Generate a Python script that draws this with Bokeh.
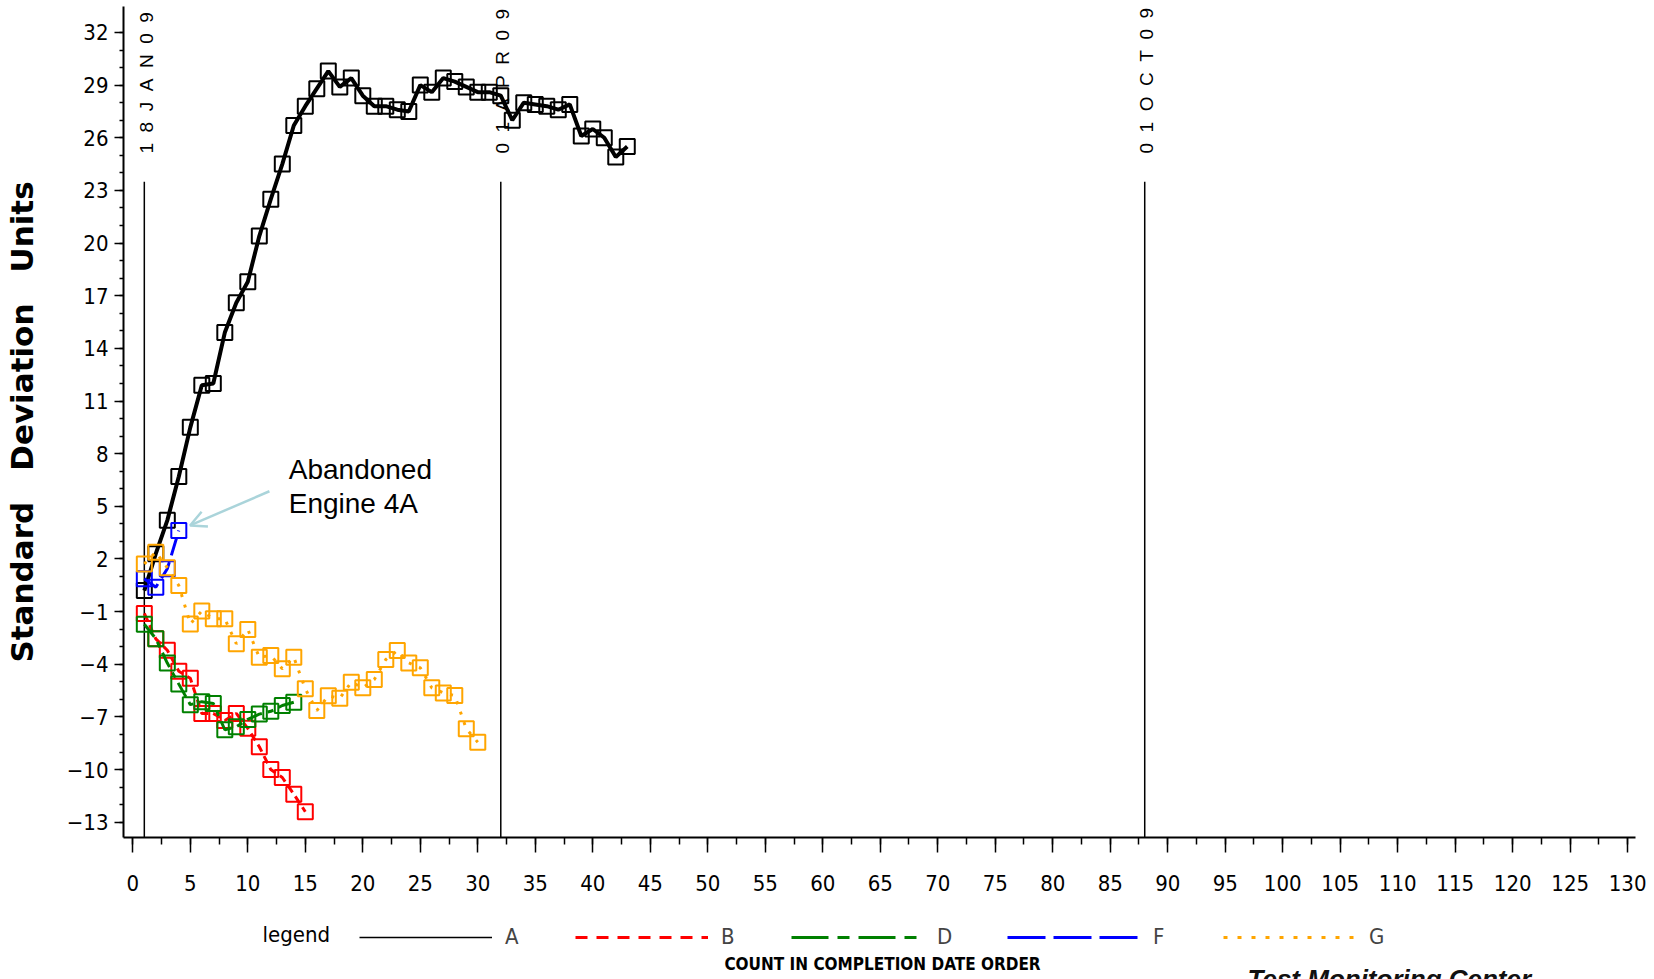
import math
from bokeh.plotting import figure
from bokeh.layouts import column
from bokeh.models import (Range1d, FixedTicker, Legend, LegendItem, Label,
                          Arrow, OpenHead)
from bokeh.core.properties import value
from bokeh.embed import file_html
from bokeh.resources import INLINE

NARROW = "Liberation Sans Narrow, DejaVu Sans Condensed, Liberation Sans"

# ---- data ----
x_a = list(range(1, 44))
y_a = [0.2, 2.3, 4.2, 6.7, 9.5, 11.9, 12.0, 14.9, 16.6, 17.8,
       20.4, 22.5, 24.5, 26.7, 27.8, 28.8, 29.8, 28.9, 29.4, 28.4,
       27.8, 27.8, 27.6, 27.5, 29.0, 28.6, 29.4, 29.2, 28.9, 28.6,
       28.6, 28.4, 27.0, 28.0, 27.9, 27.8, 27.6, 27.9, 26.1, 26.5,
       26.0, 24.9, 25.5]

x_b = list(range(1, 16))
y_b = [-1.1, -2.55, -3.2, -4.4, -4.8, -6.8, -6.8, -7.2, -6.8, -7.65,
       -8.7, -10.0, -10.45, -11.4, -12.4]

x_d = list(range(1, 15))
y_d = [-1.72, -2.54, -3.93, -5.13, -6.3, -6.13, -6.23, -7.73, -7.56, -7.14,
       -6.84, -6.68, -6.35, -6.16]

x_f = [1, 2, 3, 4]
y_f = [0.87, 0.39, 1.44, 3.62]

x_g = list(range(1, 31))
y_g = [1.72, 2.39, 1.5, 0.49, -1.7, -0.97, -1.41, -1.41, -2.83, -2.02,
       -3.6, -3.5, -4.26, -3.6, -5.4, -6.64, -5.8, -5.94, -5.02, -5.34,
       -4.87, -3.73, -3.22, -3.92, -4.2, -5.34, -5.63, -5.78, -7.68, -8.44]

series_names = ["A", "B", "D", "F", "G"]

ref_x = [1, 32, 88]
ref_text = ["18JAN09", "01APR09", "01OCT09"]
ref_line_top = 23.5
ref_label_base = 25.1

y_ticks = list(range(-13, 33, 3))
y_minor = list(range(-13, 33))
x_ticks = list(range(0, 131, 5))
x_minor = [i * 2.5 for i in range(0, 53)]

X_LO, X_HI = -0.81, 130.68
Y_LO, Y_HI = -13.87, 33.48

p = figure(width=1654, height=905, output_backend="svg", toolbar_location=None,
           x_range=Range1d(X_LO, X_HI), y_range=Range1d(Y_LO, Y_HI),
           min_border_left=119, min_border_right=19, min_border_top=6,
           min_border_bottom=68)
p.outline_line_color = None
p.xgrid.visible = False
p.ygrid.visible = False
p.background_fill_color = "white"
p.border_fill_color = "white"

p.xaxis.ticker = FixedTicker(ticks=x_ticks, minor_ticks=x_minor)
p.yaxis.ticker = FixedTicker(ticks=y_ticks, minor_ticks=y_minor)
for ax in (p.xaxis[0], p.yaxis[0]):
    ax.axis_line_color = "black"
    ax.axis_line_width = 2
    ax.major_tick_line_color = "black"
    ax.major_tick_line_width = 1.5
    ax.minor_tick_line_color = "black"
    ax.minor_tick_line_width = 1.5
    ax.major_tick_in = 0
    ax.minor_tick_in = 0
    ax.major_label_text_font = NARROW
    ax.major_label_text_font_size = "22px"
    ax.major_label_text_color = "black"
p.xaxis.major_tick_out = 15
p.xaxis.minor_tick_out = 7
p.xaxis.major_label_standoff = 22
p.yaxis.major_tick_out = 9
p.yaxis.minor_tick_out = 4
p.yaxis.major_label_standoff = 6
p.yaxis.axis_label = "Standard\u2003Deviation\u2003Units"
p.yaxis.axis_label_text_font = "DejaVu Sans"
p.yaxis.axis_label_text_font_style = "bold"
p.yaxis.axis_label_text_font_size = "31px"
p.yaxis.axis_label_text_color = "black"
p.yaxis.axis_label_standoff = 24

# reference date lines and labels
p.segment(x0=ref_x, y0=[Y_LO] * len(ref_x), x1=ref_x, y1=[ref_line_top] * len(ref_x),
          line_color="black", line_width=1.5)
p.text(x=ref_x, y=[ref_label_base] * len(ref_x),
       text=["\u00a0\u00a0".join(t) for t in ref_text], angle=math.pi / 2,
       text_align="left", text_baseline="middle", x_offset=2,
       text_font=value("Liberation Sans"), text_font_size="19px", text_color="black")

styles = [
    (x_a, y_a, "black", "solid", 4, "solid", 1.5),
    (x_b, y_b, "red", "8 5", 3, "12 9", 3),
    (x_d, y_d, "green", "16 6 6 6", 3, "37 9 12 9", 3),
    (x_f, y_f, "blue", "18 7", 3, "38 8", 3),
    (x_g, y_g, "orange", "3 8", 3, "4 10", 3),
]

# footer figure holding the legend, the x-axis title and the footer text;
# its ranges lie far from the data, so its legend proxies draw nothing in the frame
p2 = figure(width=1654, height=74, output_backend="svg", toolbar_location=None,
            x_range=Range1d(-1000, -999), y_range=Range1d(-1000, -999),
            min_border=0, x_axis_location=None, y_axis_location=None)
p2.outline_line_color = None
p2.grid.visible = False
p2.background_fill_color = "white"
p2.border_fill_color = "white"

items = []
for (xs, ys, col, dash, lw, ldash, llw), name in zip(styles, series_names):
    p.line(xs, ys, line_color=col, line_dash=dash, line_width=lw)
    p.scatter(xs, ys, marker="square", size=15, fill_color=None,
              line_color=col, line_width=2)
    proxy = p2.line(xs, ys, line_color=col, line_dash=ldash, line_width=llw)
    items.append(LegendItem(label=name, renderers=[proxy]))

legend = Legend(items=items, orientation="horizontal",
                label_text_font=NARROW, label_text_font_size="22px",
                glyph_width=133, glyph_height=20, label_standoff=13, spacing=50,
                padding=0, margin=0, border_line_color=None,
                background_fill_alpha=0, location=(236, 30))
p2.add_layout(legend)

p2.add_layout(Label(x=139, y=33, x_units="screen", y_units="screen",
                    text="legend", text_align="left",
                    text_font=NARROW, text_font_size="22px", text_color="black"))
p2.add_layout(Label(x=759, y=6, x_units="screen", y_units="screen",
                    text="COUNT IN COMPLETION DATE ORDER", text_align="center",
                    text_font=NARROW, text_font_style="bold", text_font_size="17px",
                    text_color="black"))
p2.add_layout(Label(x=1124, y=-14, x_units="screen", y_units="screen",
                    text="Test Monitoring Center", text_align="left",
                    text_font="Liberation Sans", text_font_style="bold italic",
                    text_font_size="26px", text_color="#111111"))

# annotation
p.add_layout(Arrow(x_start=11.88, y_start=5.86, x_end=4.98, y_end=3.91,
                   line_color="#aad4da", line_width=2.5,
                   end=OpenHead(size=16, line_color="#aad4da", line_width=2.5)))
p.add_layout(Label(x=13.56, y=6.24, text="Abandoned",
                   text_font="Liberation Sans", text_font_size="28px",
                   text_color="black"))
p.add_layout(Label(x=13.56, y=4.25, text="Engine 4A",
                   text_font="Liberation Sans", text_font_size="28px",
                   text_color="black"))

open("out.html", "w").write(file_html(column(p, p2, spacing=0), INLINE))
